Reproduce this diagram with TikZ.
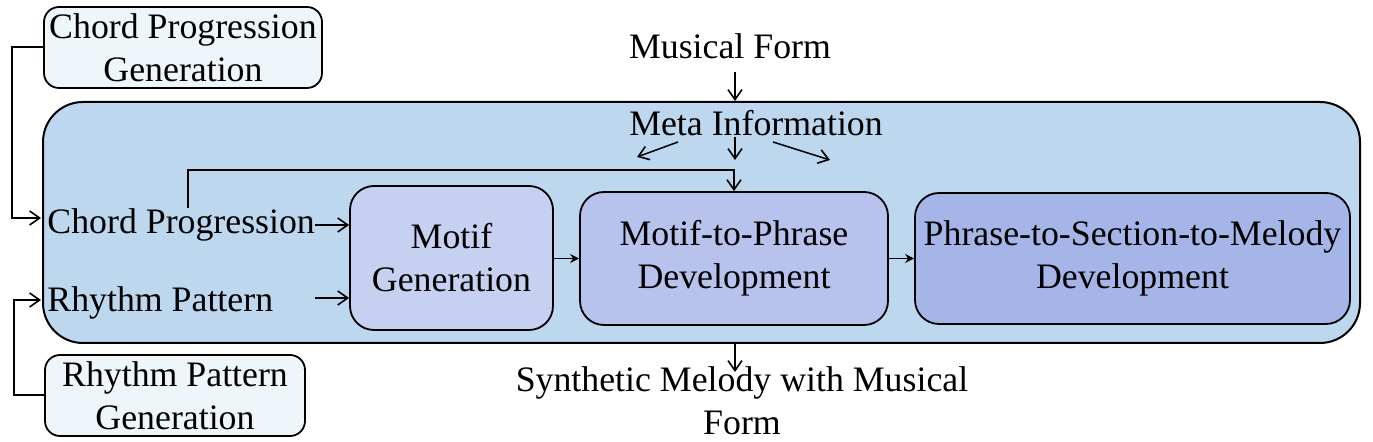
\documentclass[tikz,border=0pt]{standalone}
\usepackage{fontspec}
\setmainfont{Liberation Serif}
\newfontfamily\timesfont{Liberation Serif}
\usetikzlibrary{arrows.meta}
\definecolor{genfill}{HTML}{EEF6FA}
\definecolor{mainfill}{HTML}{BDD7EE}
\definecolor{motiffill}{HTML}{C6D1F1}
\definecolor{mpfill}{HTML}{B7C3EC}
\definecolor{psfill}{HTML}{A6B5E7}
\tikzset{
  every node/.style={font=\timesfont\fontsize{17.9}{21.5}\selectfont, align=center, inner sep=0pt},
  genbox/.style={draw, line width=0.9pt, rounded corners=7.5pt, fill=genfill, minimum height=40.5pt},
  stagebox/.style={draw, line width=0.9pt, rounded corners=12pt},
  conn/.style={line width=0.75pt, -{Straight Barb[length=5pt,width=7pt,line width=0.8pt]}},
  flow/.style={line width=0.75pt, -{Stealth[length=4.5pt,width=4.5pt]}}
}
\begin{document}
\begin{tikzpicture}[x=0.5pt,y=-0.5pt]
\useasboundingbox (0,0) rectangle (1373,442);
% main container
\node[draw, line width=1pt, rounded corners=20pt, fill=mainfill, minimum width=658.5pt, minimum height=120.5pt] (main) at (701.5,222.5) {};
% generator boxes
\node[genbox, minimum width=139pt] (cpg) at (183,47.5) {Chord Progression\\Generation};
\node[genbox, minimum width=130pt] (rpg) at (175,395.5) {Rhythm Pattern\\Generation};
% stage boxes
\node[stagebox, fill=motiffill, minimum width=101.5pt, minimum height=72pt] (mg) at (451.5,258) {Motif\\Generation};
\node[stagebox, fill=mpfill, minimum width=154pt, minimum height=66.5pt] (mp) at (734,258.5) {Motif-to-Phrase\\Development};
\node[stagebox, fill=psfill, minimum width=217.5pt, minimum height=65.5pt] (ps) at (1132.5,258.5) {Phrase-to-Section-to-Melody\\Development};
% text labels
\node (mf) at (730,46) {Musical Form};
\node (meta) at (756,123) {Meta Information};
\node[anchor=west] (cp) at (47,225) {Chord Progression};
\node[anchor=west] (rp) at (47,303) {Rhythm Pattern};
\node (out) at (742,401) {Synthetic Melody with Musical\\Form};
% coordinates
\coordinate (mfa) at (735,72);
\coordinate (cpx) at (188,170);
\coordinate (ml1) at (678,142); \coordinate (ml2) at (637,157);
\coordinate (mm1) at (735,137); \coordinate (mm2) at (735,160);
\coordinate (mr1) at (773,142); \coordinate (mr2) at (830,160);
\coordinate (rps) at (315,298);
\coordinate (lc1) at (12,47); \coordinate (lc2) at (41,218);
\coordinate (lr1) at (14,395); \coordinate (lr2) at (41,300);
\coordinate (outa) at (735,372);
% connectors
\draw[conn] (mfa) -- (mfa |- main.north);
\draw[conn] (ml1) -- (ml2);
\draw[conn] (mm1) -- (mm2);
\draw[conn] (mr1) -- (mr2);
\draw[conn] (cp.north -| cpx) -- (cpx) -| (mp.north);
\draw[conn] (cp.east) -- (mg.west |- cp.east);
\draw[conn] (rps) -- (mg.west |- rps);
\draw[flow] (mg.east |- mp.west) -- (mp.west);
\draw[flow] (mp.east) -- (ps.west);
\draw[conn] (cpg.west |- lc1) -| (lc1 |- lc2) -- (lc2);
\draw[conn] (rpg.west |- lr1) -| (lr1 |- lr2) -- (lr2);
\draw[conn] (outa |- main.south) -- (outa);
\end{tikzpicture}
\end{document}
